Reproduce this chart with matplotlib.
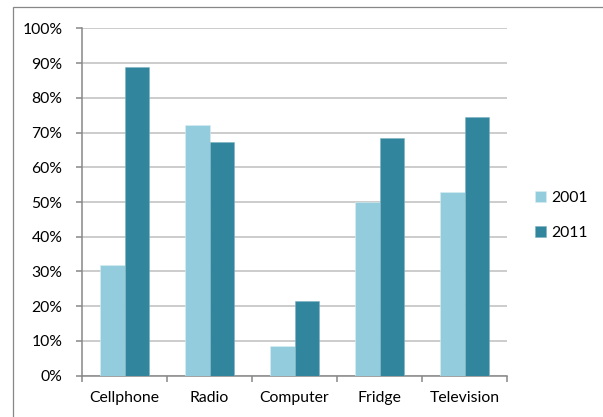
import matplotlib
matplotlib.use("Agg")
import matplotlib.pyplot as plt
from matplotlib.patches import Rectangle
import numpy as np

categories = ["Cellphone", "Radio", "Computer", "Fridge", "Television"]
series_names = ["2001", "2011"]
values_2001 = [32.0, 72.3, 8.6, 50.0, 52.8]
values_2011 = [88.8, 67.4, 21.6, 68.3, 74.5]
y_ticks = [0, 10, 20, 30, 40, 50, 60, 70, 80, 90, 100]
y_tick_labels = ["0%", "10%", "20%", "30%", "40%", "50%", "60%", "70%", "80%", "90%", "100%"]

colors = ["#93CDDD", "#31859C"]
axis_gray = "#878787"
grid_gray = "#BEBEBE"
fs = 11.3

plt.rcParams["font.family"] = ["Lato", "DejaVu Sans"]

fig = plt.figure(figsize=(6.03, 4.17), dpi=100)
fig.patch.set_facecolor("white")

# outer chart frame (top and left edges visible)
fig.add_artist(Rectangle((13 / 603, -0.05), 2.0, 1.05 - 7 / 417,
                         transform=fig.transFigure, fill=False,
                         edgecolor=axis_gray, linewidth=0.9))

ax = fig.add_axes([82 / 603, (417 - 375.7) / 417, (507 - 82) / 603, (375.7 - 28.3) / 417])

x = np.arange(len(categories))
bw = 0.285
ax.bar(x - bw / 2, values_2001, width=bw, color=colors[0], label=series_names[0],
       edgecolor="#D8EEF3", linewidth=0.4, zorder=3)
ax.bar(x + bw / 2, values_2011, width=bw, color=colors[1], label=series_names[1],
       edgecolor="#7FB4C3", linewidth=0.4, zorder=3)

ax.set_xlim(-0.5, len(categories) - 0.5)
ax.set_ylim(0, 100)

ax.set_yticks(y_ticks)
ax.set_yticklabels(y_tick_labels)
ax.yaxis.grid(True, color=grid_gray, linewidth=1.1, zorder=0)
ax.set_axisbelow(True)

ax.set_xticks(x)
ax.set_xticklabels(categories)
ax.set_xticks(np.arange(len(categories) + 1) - 0.5, minor=True)
ax.tick_params(axis="x", which="major", length=0, pad=11, labelsize=fs, colors="black")
ax.tick_params(axis="x", which="minor", length=4, width=1.1, color=axis_gray, direction="out")
ax.tick_params(axis="y", which="major", length=4, width=1.1, color=axis_gray,
               direction="out", pad=10, labelsize=fs, labelcolor="black")

for side in ["top", "right"]:
    ax.spines[side].set_visible(False)
for side in ["left", "bottom"]:
    ax.spines[side].set_color(axis_gray)
    ax.spines[side].set_linewidth(1.1)

leg = ax.legend(loc="center left", bbox_to_anchor=(1.066, 0.46), frameon=False,
                fontsize=fs, handlelength=0.7, handleheight=0.7,
                labelspacing=1.33, handletextpad=0.35, borderaxespad=0, borderpad=0)

fig.savefig("out.png", dpi=100, facecolor="white")
